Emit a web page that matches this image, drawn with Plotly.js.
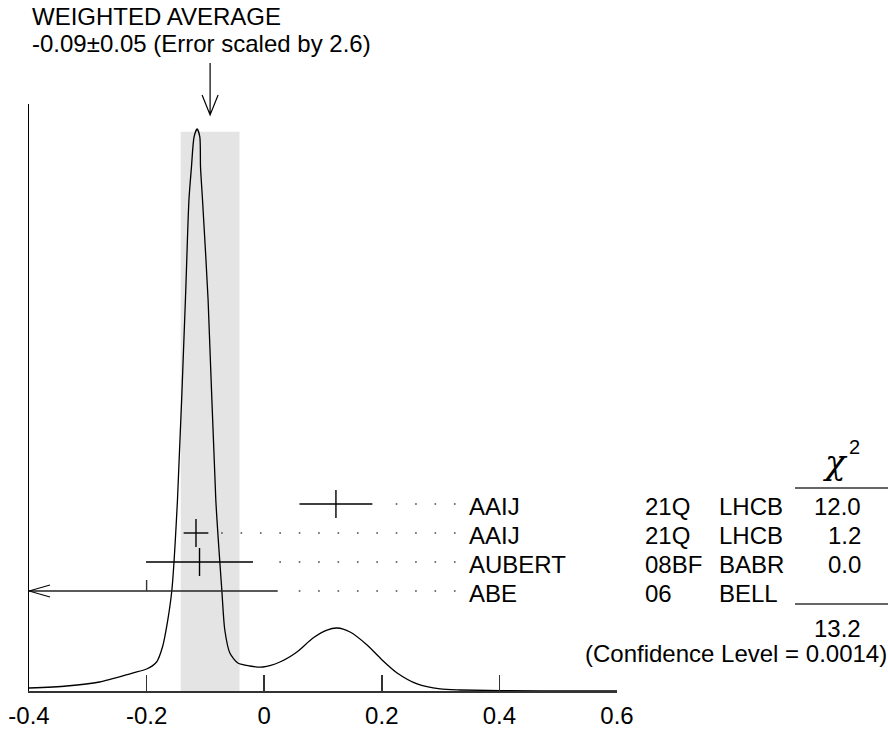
<!DOCTYPE html>
<html>
<head>
<meta charset="utf-8">
<script src="https://cdn.plot.ly/plotly-3.0.1.min.js"></script>
<style>html,body{margin:0;padding:0;background:#fff;}#chart{width:888px;height:729px;}</style>
</head>
<body>
<div id="chart"></div>
<script>
// ---- data ----
const xTickVals = [-0.4, -0.2, 0, 0.2, 0.4, 0.6];
const xTickText = ["-0.4", "-0.2", "0", "0.2", "0.4", "0.6"];

// ideogram curve (normalised to its peak)
const ideoX = [-0.400, -0.336, -0.280, -0.224, -0.200, -0.183, -0.173, -0.164, -0.157, -0.1475, -0.134, -0.128, -0.1237, -0.1193, -0.1141, -0.1095, -0.1083, -0.1049, -0.0954, -0.0823, -0.0721, -0.0670, -0.0584, -0.0448, -0.0244, -0.0022, 0.0267, 0.0557, 0.0830, 0.1068, 0.1239, 0.1460, 0.1750, 0.2005, 0.2261, 0.2601, 0.2993, 0.3334, 0.4697, 0.600];
const ideoY = [0.0053, 0.0089, 0.0160, 0.0320, 0.0391, 0.0516, 0.0783, 0.1263, 0.1797, 0.3399, 0.6957, 0.8737, 0.9324, 0.9858, 1.0000, 0.9858, 0.9324, 0.8737, 0.6957, 0.3399, 0.1797, 0.1085, 0.0676, 0.0498, 0.0445, 0.0427, 0.0516, 0.0694, 0.0943, 0.1085, 0.1121, 0.1050, 0.0819, 0.0552, 0.0320, 0.0125, 0.0036, 0.0018, 0.0, 0.0];

// measurements (top to bottom)
const authors = ["AAIJ", "AAIJ", "AUBERT", "ABE"];
const docs = ["21Q", "21Q", "08BF", "06"];
const exps = ["LHCB", "LHCB", "BABR", "BELL"];
const values = [0.122, -0.116, -0.110];
const errors = [0.062, 0.021, 0.091];
const chi2 = ["12.0", "1.2", "0.0", ""];
const abeUpper = 0.023;   // upper end of the off-scale ABE 06 bar
const abeMark = -0.2;     // small mark on the ABE 06 bar

const avgValue = -0.092, avgError = 0.050;
const avgLabel = "-0.09\u00b10.05";
const scaleFactor = "2.6";
const chi2Total = "13.2";
const confLevel = "0.0014";

// ---- drawing ----
const FONT = "Liberation Sans, Arial, Helvetica, sans-serif";
const nRows = authors.length;
const rowY = authors.map((_, i) => nRows - 1 - i);
const xMin = xTickVals[0], xMax = xTickVals[xTickVals.length - 1];
const dotEnd = 0.3254;
const dotGap = 0.017;

const traces = [];
traces.push({
  x: ideoX, y: ideoY, type: "scatter", mode: "lines",
  line: {color: "#000", width: 1.3, shape: "spline", smoothing: 0.7},
  xaxis: "x", yaxis: "y", hoverinfo: "skip"
});
// dotted leaders
const barEnds = values.map((v, i) => v + errors[i]).concat([abeUpper]);
barEnds.forEach((e, i) => {
  traces.push({
    x: [dotEnd, e + dotGap], y: [rowY[i], rowY[i]], type: "scatter", mode: "lines",
    line: {color: "#444", width: 1.6, dash: "1.6px,17.8px"},
    xaxis: "x", yaxis: "y2", hoverinfo: "skip"
  });
});
// measurements with error bars
traces.push({
  x: values, y: rowY.slice(0, values.length), type: "scatter", mode: "markers",
  marker: {symbol: "line-ns-open", size: 20, color: "#000", line: {color: "#000", width: 1.4}},
  error_x: {type: "data", array: errors, symmetric: true, thickness: 1.4, width: 0, color: "#000"},
  xaxis: "x", yaxis: "y2", hoverinfo: "skip"
});
// off-scale ABE bar
traces.push({
  x: [xMin, abeUpper], y: [rowY[3], rowY[3]], type: "scatter", mode: "lines",
  line: {color: "#222", width: 1.5}, xaxis: "x", yaxis: "y2", hoverinfo: "skip"
});

const peak = Math.max(...ideoY);
const plotH = 587, rowPx = 29, bottomRowPx = 100;
const y2Range = [-bottomRowPx / rowPx, (plotH - bottomRowPx) / rowPx];
const peakPx = 562;

const shapes = [
  {type: "rect", xref: "x", yref: "y", x0: avgValue - avgError, x1: avgValue + avgError, y0: 0, y1: peak * 0.995,
   fillcolor: "#e4e4e4", line: {width: 0}, layer: "below"},
  {type: "path", xref: "x", yref: "y2", xsizemode: "pixel", ysizemode: "pixel", xanchor: xMin, yanchor: rowY[3],
   path: "M21,6L0,0L21,-6", line: {color: "#000", width: 1.2}},
  {type: "line", xref: "x", yref: "y2", ysizemode: "pixel", yanchor: rowY[3], x0: abeMark, x1: abeMark, y0: 0, y1: 11,
   line: {color: "#333", width: 1.4}},
  {type: "path", xref: "x", yref: "paper", xsizemode: "pixel", ysizemode: "pixel", xanchor: avgValue, yanchor: 1,
   path: "M0,41L0,-11M-8,9L0,-11L8,9", line: {color: "#000", width: 1.2}},
  {type: "line", xref: "paper", yref: "paper", x0: (795 - 29) / 588, x1: (888 - 29) / 588, y0: (691 - 488) / 587, y1: (691 - 488) / 587,
   line: {color: "#333", width: 1.4}},
  {type: "line", xref: "paper", yref: "paper", x0: (795 - 29) / 588, x1: (888 - 29) / 588, y0: (691 - 604) / 587, y1: (691 - 604) / 587,
   line: {color: "#333", width: 1.4}}
];

const px2x = p => (p - 29) / 588;
const py2y = p => (691 - p) / 587;
const txt = (text, x, y, anchor, size, extra) => Object.assign({
  text: text, x: x, y: y, xref: "paper", yref: "paper", xanchor: anchor, yanchor: "middle",
  showarrow: false, font: {family: FONT, size: size || 24, color: "#000"}
}, extra || {});

const annotations = [
  txt("WEIGHTED AVERAGE", px2x(30), py2y(16), "left"),
  txt(avgLabel + " (Error scaled by " + scaleFactor + ")", px2x(30), py2y(44), "left"),
  txt("<i>\u03c7</i>", px2x(835), py2y(462), "center", 36, {font: {family: "DejaVu Serif, serif", size: 34, color: "#000"}}),
  txt("2", px2x(854), py2y(447), "center", 20),
  txt(chi2Total, px2x(863), py2y(628), "right"),
  txt("(Confidence Level = " + confLevel + ")", px2x(889), py2y(653), "right")
];
authors.forEach((a, i) => {
  const y = rowY[i];
  const extra = {yref: "y2", yshift: -2};
  annotations.push(txt(a, px2x(467), y, "left", 24, extra));
  annotations.push(txt(docs[i], px2x(643), y, "left", 24, extra));
  annotations.push(txt(exps[i], px2x(717), y, "left", 24, extra));
  if (chi2[i]) annotations.push(txt(chi2[i], px2x(863), y, "right", 24, extra));
});

const layout = {
  width: 888, height: 729,
  margin: {l: 29, r: 271, t: 104, b: 38, pad: 0},
  paper_bgcolor: "#fff", plot_bgcolor: "#fff",
  showlegend: false, hovermode: false,
  font: {family: FONT, size: 24, color: "#000"},
  xaxis: {
    range: [xMin, xMax], tickvals: xTickVals, ticktext: xTickText,
    ticks: "inside", ticklen: 16, tickwidth: 1.6, tickcolor: "#333",
    ticklabelstandoff: 3,
    showline: true, linecolor: "#333", linewidth: 1.5,
    showgrid: false, zeroline: false, fixedrange: true,
    tickfont: {family: FONT, size: 24, color: "#000"}
  },
  yaxis: {
    range: [0, plotH / peakPx * peak], showline: true, linecolor: "#000", linewidth: 1.5,
    showticklabels: false, ticks: "", showgrid: false, zeroline: false, fixedrange: true
  },
  yaxis2: {
    range: y2Range, overlaying: "y", side: "left", visible: false, fixedrange: true
  },
  shapes: shapes,
  annotations: annotations
};

Plotly.newPlot("chart", traces, layout, {staticPlot: true, displayModeBar: false});
</script>
</body>
</html>
